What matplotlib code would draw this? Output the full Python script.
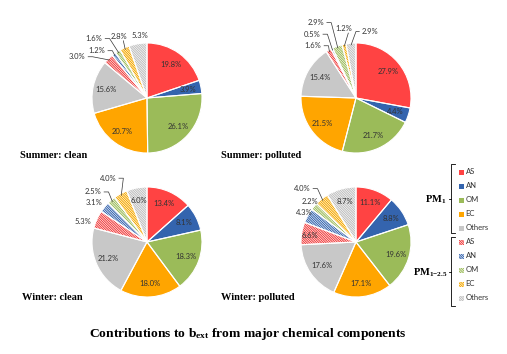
import numpy as np
import matplotlib.pyplot as plt
from matplotlib.patches import Rectangle

plt.rcParams['font.family'] = ['Lato', 'DejaVu Sans']
plt.rcParams['hatch.linewidth'] = 0.75
plt.rcParams['mathtext.fontset'] = 'custom'
plt.rcParams['mathtext.rm'] = 'Liberation Serif:bold'
plt.rcParams['mathtext.it'] = 'Liberation Serif:bold'
plt.rcParams['mathtext.bf'] = 'Liberation Serif:bold'

# components: PM1 (solid) then PM1-2.5 (hatched)
components = ['AS', 'AN', 'OM', 'EC', 'Others']
colors = ['#FF4343', '#3464AE', '#9BBB59', '#FFA500', '#C8C8C8']
hatch_colors = ['#F03C3C', '#3464AE', '#9BBB59', '#F5A800', '#BEBEBE']

summer_clean = [19.8, 3.9, 26.1, 20.7, 15.6, 3.0, 1.2, 1.6, 2.8, 5.3]
summer_polluted = [27.9, 4.4, 21.7, 21.5, 15.4, 1.6, 0.5, 2.9, 1.2, 2.9]
winter_clean = [13.4, 8.1, 18.3, 18.0, 21.2, 5.3, 3.1, 2.5, 4.0, 6.0]
winter_polluted = [11.1, 8.8, 19.6, 17.1, 17.6, 6.6, 4.3, 2.2, 4.0, 8.7]

titles = ['Summer: clean', 'Summer: polluted', 'Winter: clean', 'Winter: polluted']

HATCH = chr(92) * 14

W, H = 507, 354
fig = plt.figure(figsize=(W / 100, H / 100), dpi=100)

# overlay axes in pixel coordinates for annotations
ov = fig.add_axes([0, 0, 1, 1])
ov.set_xlim(0, W)
ov.set_ylim(H, 0)
ov.axis('off')

# pie layout: centre (px), title position, outside label spots
pies = [
    dict(data=summer_clean, c=(147, 98), title=(20, 155),
         out={5: (-1.27, 0.75, 'r'), 6: (-0.91, 0.86, 'r'), 7: (-0.96, 1.08, 'r'),
              8: (-0.51, 1.12, 'b'), 9: (-0.13, 1.14, None)}),
    dict(data=summer_polluted, c=(356, 98), title=(221, 155),
         out={5: (-0.78, 0.95, 'r'), 6: (-0.80, 1.16, 'r'), 7: (-0.73, 1.37, 'r'),
              8: (-0.22, 1.26, 'b'), 9: (0.26, 1.21, 'l')}),
    dict(data=winter_clean, c=(147, 242), title=(22, 297),
         out={5: (-1.16, 0.38, None), 6: (-0.96, 0.71, None), 7: (-0.98, 0.91, 'r'),
              8: (-0.71, 1.16, 'r')}),
    dict(data=winter_polluted, c=(356, 242), title=(221, 297),
         out={5: (-0.84, 0.11, None), 6: (-0.94, 0.53, None), 7: (-0.83, 0.73, None),
              8: (-0.98, 0.97, 'r')}),
]
R = 55

for p, title in zip(pies, titles):
    cx, cy = p['c']
    ax = fig.add_axes([(cx - R) / W, 1 - (cy + R) / H, 2 * R / W, 2 * R / H])
    vals = p['data']
    fcs = colors + ['white'] * 5
    wedges, _ = ax.pie(vals, startangle=90, counterclock=False, colors=fcs,
                       wedgeprops=dict(linewidth=0))
    for w, hc in zip(wedges[5:], hatch_colors):
        w.set_edgecolor(hc)
        w.set_hatch(HATCH)
    # white separators
    ax.pie(vals, startangle=90, counterclock=False, colors=['none'] * 10,
           wedgeprops=dict(linewidth=0.8, edgecolor='white'))
    ax.set_xlim(-1, 1)
    ax.set_ylim(-1, 1)
    ax.set_aspect('equal')
    ax.axis('off')

    for i, (w, v) in enumerate(zip(wedges, vals)):
        mid = np.deg2rad((w.theta1 + w.theta2) / 2)
        lab = f'{v:.1f}%'
        if i in p['out']:
            x, y, side = p['out'][i]
            ax.text(x, y, lab, ha='center', va='center', fontsize=5.5, color='#333333',
                    clip_on=False)
            if side is not None:
                ex, ey = 0.97 * np.cos(mid), 0.97 * np.sin(mid)
                if side == 'r':
                    pts = [(x + 0.2, y), (x + 0.28, y), (ex, ey)]
                elif side == 'l':
                    pts = [(x - 0.2, y), (x - 0.26, y), (ex, ey)]
                else:
                    pts = [(x + 0.08, y - 0.08), (ex, ey)]
                xs, ys = zip(*pts)
                ax.plot(xs, ys, color='#333333', lw=0.5, clip_on=False)
        else:
            ax.text(0.76 * np.cos(mid), 0.76 * np.sin(mid), lab, ha='center', va='center',
                    fontsize=5.5, color='#333333')

    ov.text(p['title'][0], p['title'][1], title, ha='left', va='center',
            fontsize=7.5, fontweight='bold', family='Liberation Serif')

# legend
solid_y = [172, 186, 200, 214, 228]
hatch_y = [242, 256, 270, 284, 298]
for name, c, hc, y1, y2 in zip(components, colors, hatch_colors, solid_y, hatch_y):
    ov.add_patch(Rectangle((458.5, y1 - 2.5), 5, 5, facecolor=c, edgecolor='none'))
    ov.text(465.5, y1, name, ha='left', va='center', fontsize=5.5, color='#333333')
    ov.add_patch(Rectangle((458.5, y2 - 2.5), 5, 5, facecolor='white', edgecolor=hc,
                           hatch=HATCH, linewidth=0))
    ov.text(465.5, y2, name, ha='left', va='center', fontsize=5.5, color='#333333')

for top, bot, lab, lx in [(164, 233, r'PM$_{1}$', 446), (237, 306, r'PM$_{1\mathrm{-}2.5}$', 448)]:
    mid = (top + bot) / 2
    ov.plot([455, 451, 451, 455], [top, top, bot, bot], color='black', lw=0.6)
    ov.plot([451, 448.5], [mid, mid], color='black', lw=0.6)
    ov.text(lx, mid + 1, lab, ha='right', va='center', fontsize=7.5, fontweight='bold',
            family='Liberation Serif')

ov.text(248, 334, r'Contributions to b$_{\mathrm{ext}}$ from major chemical components',
        ha='center', va='center', fontsize=9.7, fontweight='bold', family='Liberation Serif')

fig.savefig('out.png', dpi=100)
